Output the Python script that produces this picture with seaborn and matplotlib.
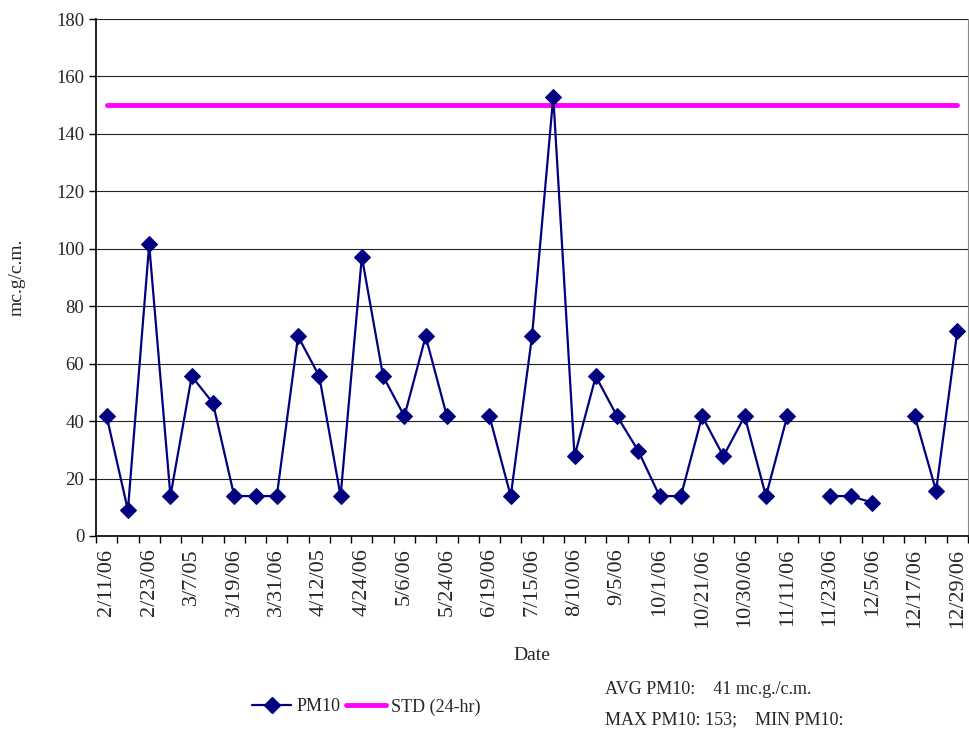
import matplotlib
matplotlib.use('Agg')
import matplotlib.pyplot as plt
from matplotlib.lines import Line2D
from matplotlib.ticker import FixedLocator, NullFormatter
import seaborn as sns
import numpy as np
import pandas as pd

sns.set_style('white')
plt.rcParams['font.family'] = ['Liberation Serif', 'DejaVu Serif']

## PM10 readings, one per sampling day (NaN = no sample)
pm10 = [41.7, 9.0, 101.5, 13.9, 55.6, 46.3, 13.9, 13.9, 13.9, 69.5,
        55.6, 13.9, 97.2, 55.6, 41.7, 69.5, 41.7, np.nan, 41.7, 13.9,
        69.5, 153.0, 27.8, 55.6, 41.7, 29.6, 13.9, 13.9, 41.7, 27.8,
        41.7, 13.9, 41.7, np.nan, 13.9, 13.9, 11.6, np.nan, 41.7, 15.7,
        71.5]
std_24hr = 150
## date labels shown on every second sample
date_labels = ['2/11/06', '2/23/06', '3/7/05', '3/19/06', '3/31/06', '4/12/05',
               '4/24/06', '5/6/06', '5/24/06', '6/19/06', '7/15/06', '8/10/06',
               '9/5/06', '10/1/06', '10/21/06', '10/30/06', '11/11/06',
               '11/23/06', '12/5/06', '12/17/06', '12/29/06']

n = len(pm10)
df = pd.DataFrame({'idx': np.arange(n), 'PM10': pm10})
## split into segments so missing samples break the line
df['seg'] = df['PM10'].isna().cumsum()
df = df.dropna()
std_df = pd.DataFrame({'idx': np.arange(n), 'STD': [std_24hr] * n})

fig = plt.figure(figsize=(9.69, 7.31), dpi=100)
ax = fig.add_axes([96 / 969, 1 - 536 / 731, 872 / 969, 517 / 731])

sns.lineplot(data=std_df, x='idx', y='STD', color='#FF00FF', linewidth=3.5,
             solid_capstyle='round', ax=ax, zorder=2)
sns.lineplot(data=df, x='idx', y='PM10', units='seg', estimator=None,
             color='#000080', linewidth=1.6, marker='D', markersize=8,
             markeredgecolor='#000080', ax=ax, zorder=3)

ax.set_xlim(-0.5, n - 0.5)
ax.set_ylim(0, 180)
ax.set_yticks(np.arange(0, 181, 20))
ax.yaxis.grid(True, color='#222222', linewidth=0.8)
ax.set_axisbelow(True)

ax.set_xticks(np.arange(0, n, 2))
ax.set_xticklabels(date_labels, rotation=90, fontsize=16)
ax.tick_params(axis='x', which='major', length=0, pad=9)
ax.xaxis.set_minor_locator(FixedLocator(np.arange(-0.5, n, 1)))
ax.xaxis.set_minor_formatter(NullFormatter())
ax.tick_params(axis='x', which='minor', length=5, width=1, direction='out',
               bottom=True, color='black')
ax.tick_params(axis='y', length=5, width=1, direction='out', left=True,
               labelsize=13.5, color='black')

for s in ['left', 'bottom']:
    ax.spines[s].set_color('black')
    ax.spines[s].set_linewidth(1.2)
ax.spines['top'].set_visible(False)
ax.spines['right'].set_color('#888888')

ax.set_xlabel('Date', fontsize=14, labelpad=14)
ax.set_ylabel('mc.g/c.m.', fontsize=14, labelpad=22)

handles = [Line2D([], [], color='#000080', linewidth=1.6, marker='D', markersize=8),
           Line2D([], [], color='#FF00FF', linewidth=3.5, solid_capstyle='round')]
fig.legend(handles, ['PM10', 'STD (24-hr)'], loc='center', ncol=2, frameon=False,
           bbox_to_anchor=(0.378, 0.033), fontsize=13, handlelength=2.2,
           handletextpad=0.3, columnspacing=0.3)

fig.text(605 / 969, 1 - 690 / 731, 'AVG PM10:    41 mc.g./c.m.', fontsize=13, va='center')
fig.text(605 / 969, 1 - 720 / 731, 'MAX PM10: 153;    MIN PM10:', fontsize=13, va='center')

fig.savefig('out.png', dpi=100)
